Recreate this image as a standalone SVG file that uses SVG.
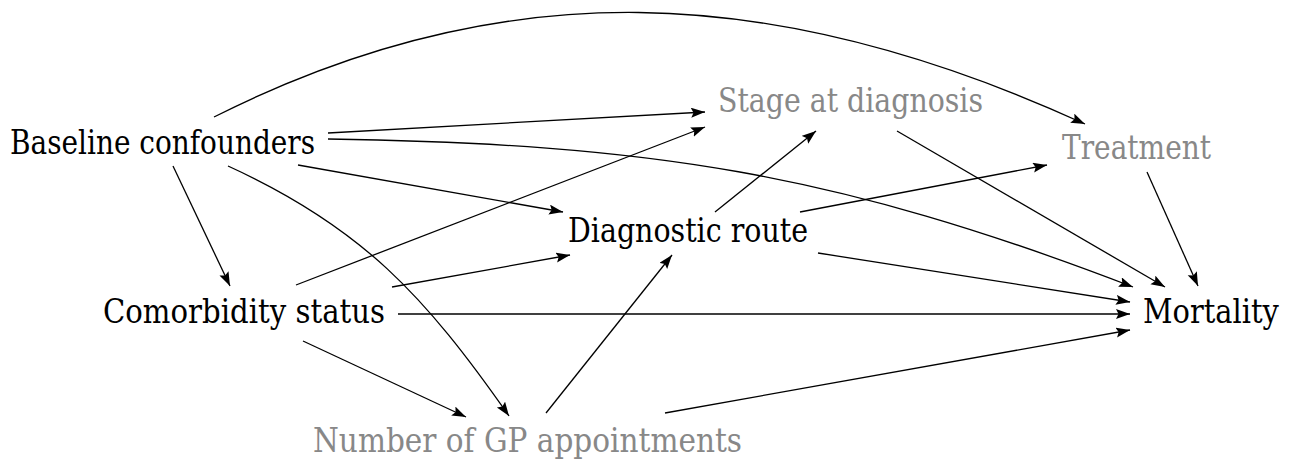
<svg xmlns="http://www.w3.org/2000/svg" width="1289" height="459" viewBox="0 0 1289 459">
<style>
.edge{fill:none;stroke:#000;stroke-width:1.3;marker-end:url(#arr)}
</style>
<defs>
<marker id="arr" markerUnits="userSpaceOnUse" markerWidth="16" markerHeight="12" refX="14" refY="5" orient="auto">
<path d="M0,0 L14,5 L0,10 L2.5,5 z" fill="#000"/>
</marker>
</defs>
<rect width="1289" height="459" fill="#fff"/>
<g id="connectors">
<path class="edge" d="M214,117 C500,-27 770,-20 1085,124"/>
<path class="edge" d="M328,133 L705,112"/>
<path class="edge" d="M328,139 C648,144 834,172 1133,287"/>
<path class="edge" d="M298,165 L563,212"/>
<path class="edge" d="M173,166 L230,286"/>
<path class="edge" d="M228,166 C362,227 425,296 509,416"/>
<path class="edge" d="M296,285 L705,127"/>
<path class="edge" d="M392,287 L570,255"/>
<path class="edge" d="M398,314 L1130,314"/>
<path class="edge" d="M303,341 L466,417"/>
<path class="edge" d="M546,413 L672,255"/>
<path class="edge" d="M665,413 L1130,330"/>
<path class="edge" d="M715,212 L816,131"/>
<path class="edge" d="M800,212 L1047,165"/>
<path class="edge" d="M818,253 L1130,302"/>
<path class="edge" d="M897,131 L1165,287"/>
<path class="edge" d="M1147,172 L1198,286"/>
</g>
<g font-family="'DejaVu Serif', 'Liberation Serif', serif" font-size="33" fill="#000">
<g id="baseline"><text x="10" y="154" textLength="305" lengthAdjust="spacingAndGlyphs">Baseline confounders</text></g>
<g id="stage"><text x="718" y="112" fill="#888" textLength="265" lengthAdjust="spacingAndGlyphs">Stage at diagnosis</text></g>
<g id="treatment"><text x="1062" y="159" fill="#888" textLength="149" lengthAdjust="spacingAndGlyphs">Treatment</text></g>
<g id="diagnostic"><text x="568" y="242" textLength="240" lengthAdjust="spacingAndGlyphs">Diagnostic route</text></g>
<g id="comorbidity"><text x="103" y="323" textLength="282" lengthAdjust="spacingAndGlyphs">Comorbidity status</text></g>
<g id="mortality"><text transform="translate(1143,323) scale(0.875,1)" x="0" y="0">Mortality</text></g>
<g id="gp"><text x="313" y="452" fill="#888" textLength="429" lengthAdjust="spacingAndGlyphs">Number of GP appointments</text></g>
</g>
</svg>
